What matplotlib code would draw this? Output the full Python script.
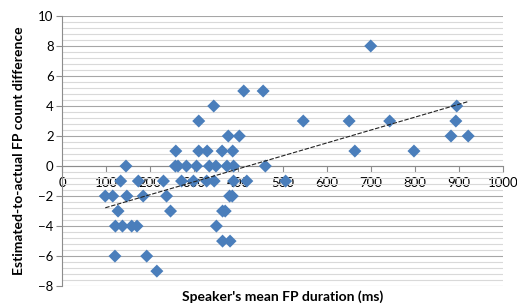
#!/usr/bin/env python3
"""
Scatter of speaker FP duration against the estimated-to-actual FP count difference,
with a linear trendline.
"""

import numpy as np
import matplotlib.pyplot as plt
from matplotlib.ticker import MultipleLocator

# Speaker's mean FP duration (ms)
durations = [
    258, 310, 329, 363, 387, 664, 798,
    145, 257, 263, 282, 305, 334, 349, 374, 389, 461,
    133, 173, 230, 271, 298, 328, 345, 389, 419, 507,
    377, 402, 882, 921,
    310, 547, 651, 743, 893,
    344, 895,
    412, 456,
    700,
    98, 115, 147, 184, 237, 380, 386,
    127, 246, 364, 370,
    121, 137, 158, 170, 350,
    364, 381,
    120, 192,
    215,
]

# Estimated-to-actual FP count difference
differences = [
    1, 1, 1, 1, 1, 1, 1,
    0, 0, 0, 0, 0, 0, 0, 0, 0, 0,
    -1, -1, -1, -1, -1, -1, -1, -1, -1, -1,
    2, 2, 2, 2,
    3, 3, 3, 3, 3,
    4, 4,
    5, 5,
    8,
    -2, -2, -2, -2, -2, -2, -2,
    -3, -3, -3, -3,
    -4, -4, -4, -4, -4,
    -5, -5,
    -6, -6,
    -7,
]

xTicks = [0, 100, 200, 300, 400, 500, 600, 700, 800, 900, 1000]
yTicks = [-8, -6, -4, -2, 0, 2, 4, 6, 8, 10]


def plotScatter(output: str = "out.png") -> None:
    """Draw the scatter and trendline and save it."""
    plt.rcParams['font.family'] = ['Lato', 'DejaVu Sans']

    fig = plt.figure(figsize=(5.17, 3.07), dpi=100)
    ax = fig.add_axes([0.120, 0.068, 0.853, 0.880])

    x = np.array(durations, dtype=float)
    y = np.array(differences, dtype=float)

    ax.scatter(x, y, marker='D', s=44, color='#4A7EBB', edgecolors='none', zorder=3)

    # Linear trendline over the data range
    slope, intercept = np.polyfit(x, y, 1)
    xs = np.array([x.min(), x.max()])
    ax.plot(xs, slope * xs + intercept, color='#222222', linewidth=0.8,
            dashes=(4, 1.5), zorder=4)

    ax.set_xlim(0, 1000)
    ax.set_ylim(-8, 10)
    ax.set_xticks(xTicks)
    ax.set_yticks(yTicks)
    ax.yaxis.set_minor_locator(MultipleLocator(0.4))

    # Horizontal axis crosses at zero
    ax.spines['bottom'].set_position(('data', 0))
    ax.spines['top'].set_visible(False)
    ax.spines['right'].set_visible(False)
    for side in ('left', 'bottom'):
        ax.spines[side].set_color('#8c8c8c')
        ax.spines[side].set_linewidth(0.8)

    ax.grid(axis='y', which='major', color='#a6a6a6', linewidth=0.8)
    ax.grid(axis='y', which='minor', color='#d9d9d9', linewidth=0.8)
    ax.set_axisbelow(True)

    ax.tick_params(axis='both', which='major', direction='out', length=4,
                   width=0.8, color='#8c8c8c', labelsize=9.5, pad=2)
    ax.tick_params(axis='x', which='major', pad=4)
    ax.tick_params(axis='y', which='minor', length=0)

    ax.set_xlabel("Speaker's mean FP duration (ms)", fontsize=10, fontweight='bold',
                  va='top')
    ax.xaxis.set_label_coords(0.5, -0.015)
    ax.set_ylabel("Estimated-to-actual FP count difference", fontsize=10, fontweight='bold')
    ax.yaxis.set_label_coords(-0.085, 0.5)

    fig.savefig(output, dpi=100)


def main():
    plotScatter("out.png")


if __name__ == "__main__":
    main()
